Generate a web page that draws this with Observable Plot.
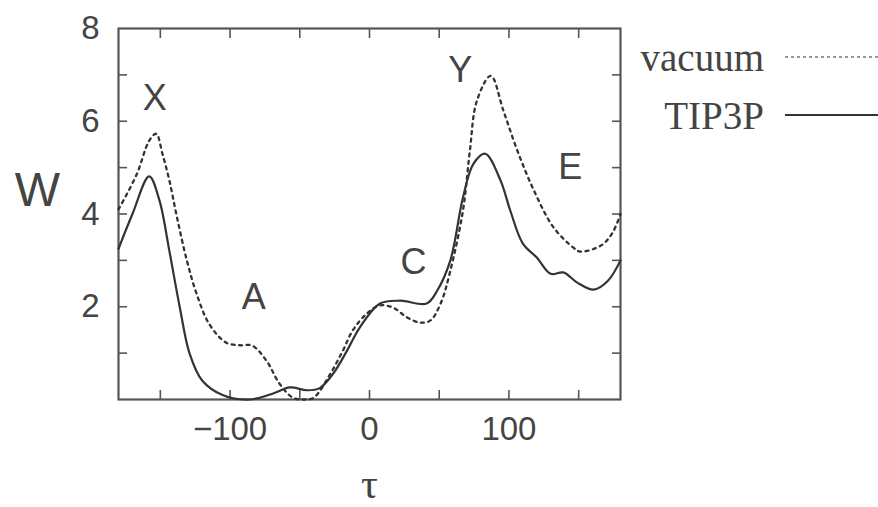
<!DOCTYPE html>
<html>
<head>
<meta charset="utf-8">
<script src="https://cdn.jsdelivr.net/npm/d3@7"></script>
<script src="https://cdn.jsdelivr.net/npm/@observablehq/plot@0.6"></script>
<style>
  html, body { margin: 0; padding: 0; background: #fff; }
  #wrap { position: relative; width: 878px; height: 507px; overflow: hidden; }
</style>
</head>
<body>
<div id="wrap"></div>
<script>
// ---- data ----
const tauTIP3P = [-180, -170, -158, -150.7, -143.5, -136, -129, -120, -105, -86, -70, -57, -45, -36, -26, -16, -7, 7.5, 22, 41, 48.6, 58, 67, 74.5, 83, 94, 101, 110, 120, 130, 139, 149, 161, 171, 180];
const wTIP3P   = [3.25, 4.0, 4.81, 4.3, 3.2, 1.98, 0.99, 0.41, 0.09, 0.0, 0.12, 0.26, 0.2, 0.24, 0.56, 1.06, 1.55, 2.07, 2.13, 2.07, 2.35, 3.0, 4.35, 5.08, 5.3, 4.72, 4.07, 3.36, 3.06, 2.71, 2.74, 2.52, 2.37, 2.56, 3.0];

const tauVacuum = [-180, -167, -158, -153, -148.5, -143.5, -138, -131, -124, -115, -103, -93, -84, -74, -64.5, -55, -47, -40, -28, -19, -12, -2, 7.5, 17, 27, 36, 43.5, 51, 58, 67, 72, 77, 87, 96, 106, 118, 132, 146, 151, 166, 174, 180];
const wVacuum   = [4.1, 4.85, 5.58, 5.73, 5.3, 4.72, 3.92, 3.0, 2.28, 1.63, 1.23, 1.17, 1.16, 0.84, 0.34, 0.04, 0.0, 0.04, 0.56, 1.06, 1.49, 1.85, 2.03, 1.98, 1.77, 1.66, 1.70, 2.07, 2.78, 4.07, 5.37, 6.44, 6.98, 6.23, 5.37, 4.5, 3.71, 3.28, 3.19, 3.32, 3.58, 4.0];

const regionNames = ["X", "A", "C", "Y", "E"];
const regionTau   = [-154, -83, 31.6, 65, 144];
const regionW     = [6.5, 2.2, 2.95, 7.1, 5.0];

const xTicks = [-150, -100, -50, 0, 50, 100, 150];
const xTickLabels = [-100, 0, 100];
const yTicks = [1, 2, 3, 4, 5, 6, 7];
const yTickLabels = [2, 4, 6, 8];

const seriesNames = ["vacuum", "TIP3P"];
const xLabel = "τ";
const yLabel = "W";

// ---- build tables ----
const tip3p = tauTIP3P.map((t, i) => ({tau: t, W: wTIP3P[i]}));
const vacuum = tauVacuum.map((t, i) => ({tau: t, W: wVacuum[i]}));
const regions = regionNames.map((n, i) => ({name: n, tau: regionTau[i], W: regionW[i]}));

const ink = "#333";
const blank = () => "";

const chart = Plot.plot({
  width: 878,
  height: 507,
  marginLeft: 118,
  marginRight: 258,
  marginTop: 28,
  marginBottom: 108,
  x: {domain: [-180, 180]},
  y: {domain: [0, 8]},
  style: {fontFamily: "'Liberation Sans', Arial, Helvetica, sans-serif", background: "#fff", color: ink, overflow: "visible"},
  marks: [
    Plot.axisX({ticks: xTicks, tickSize: -9, tickFormat: blank, label: null, stroke: "#555", strokeWidth: 1.6}),
    Plot.axisX({anchor: "top", ticks: xTicks, tickSize: -9, tickFormat: blank, label: null, stroke: "#555", strokeWidth: 1.6}),
    Plot.axisX({ticks: xTickLabels, tickSize: 0, tickPadding: 17, fontSize: 33, label: null, fill: "#444"}),
    Plot.axisY({ticks: yTicks, tickSize: -9, tickFormat: blank, label: null, stroke: "#555", strokeWidth: 1.6}),
    Plot.axisY({anchor: "right", ticks: yTicks, tickSize: -9, tickFormat: blank, label: null, stroke: "#555", strokeWidth: 1.6}),
    Plot.axisY({ticks: yTickLabels, tickSize: 0, tickPadding: 19, fontSize: 33, label: null, fill: "#444"}),
    Plot.frame({stroke: "#555", strokeWidth: 2.2}),
    Plot.line(vacuum, {x: "tau", y: "W", curve: "catmull-rom", stroke: ink, strokeWidth: 2.3, strokeDasharray: "3,4.5"}),
    Plot.line(tip3p, {x: "tau", y: "W", curve: "catmull-rom", stroke: ink, strokeWidth: 2.2}),
    Plot.text(regions, {x: "tau", y: "W", text: "name", fontSize: 36, fill: "#444"}),
    Plot.text([yLabel], {frameAnchor: "left", textAnchor: "middle", dx: -81, dy: -23, fontSize: 48, fill: "#444"}),
    Plot.text([xLabel], {frameAnchor: "bottom", textAnchor: "middle", dy: 98, fontSize: 42, fill: "#444", fontFamily: "'Liberation Serif', 'DejaVu Serif', serif"})
  ]
});

const wrap = document.getElementById("wrap");
wrap.appendChild(chart);

// ---- legend (outside the plot frame) ----
const ns = "http://www.w3.org/2000/svg";
const leg = document.createElementNS(ns, "svg");
leg.setAttribute("width", 878);
leg.setAttribute("height", 160);
leg.style.position = "absolute";
leg.style.left = "0px";
leg.style.top = "0px";
const rowY = [57, 115];
const dashes = ["3,3", null];
const widths = [1.2, 2.2];
seriesNames.forEach((name, i) => {
  const t = document.createElementNS(ns, "text");
  t.setAttribute("x", 764);
  t.setAttribute("y", rowY[i]);
  t.setAttribute("dy", "0.35em");
  t.setAttribute("text-anchor", "end");
  t.setAttribute("font-family", "'Liberation Serif', 'Times New Roman', serif");
  t.setAttribute("font-size", 39);
  t.setAttribute("fill", "#444");
  t.textContent = name;
  leg.appendChild(t);
  const l = document.createElementNS(ns, "line");
  l.setAttribute("x1", 785);
  l.setAttribute("x2", 878);
  l.setAttribute("y1", rowY[i]);
  l.setAttribute("y2", rowY[i]);
  l.setAttribute("stroke", ink);
  l.setAttribute("stroke-width", widths[i]);
  if (dashes[i]) l.setAttribute("stroke-dasharray", dashes[i]);
  leg.appendChild(l);
});
wrap.appendChild(leg);
</script>
</body>
</html>
